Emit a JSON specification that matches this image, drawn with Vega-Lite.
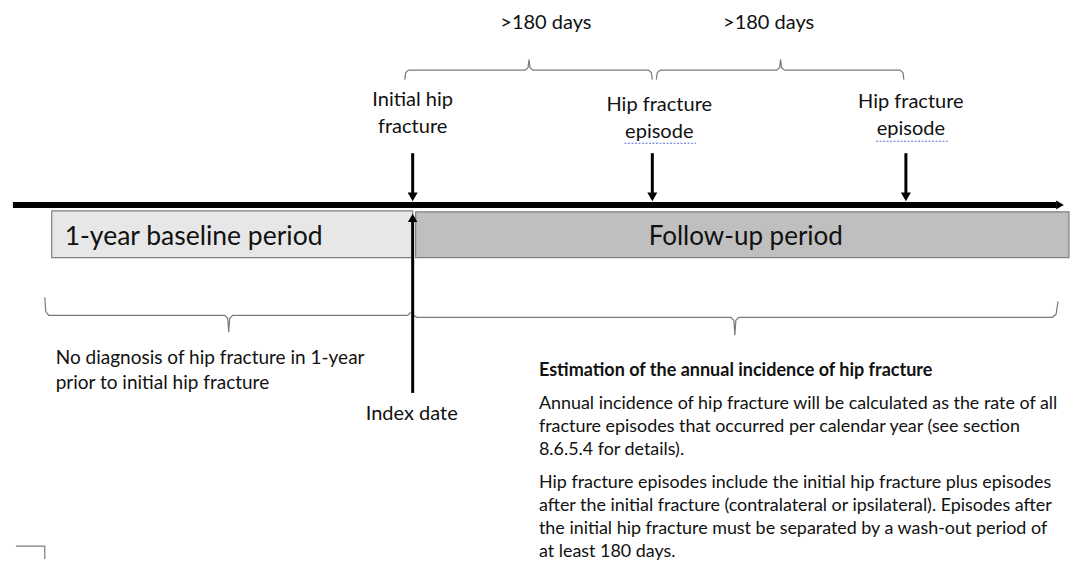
{
  "$schema": "https://vega.github.io/schema/vega-lite/v6.json",
  "width": 1070,
  "height": 562,
  "padding": 0,
  "autosize": {"type": "fit", "contains": "padding"},
  "background": "white",
  "config": {"view": {"stroke": null}, "text": {"font": "Lato"}},
  "encoding": {
    "x": {"field": "x", "type": "quantitative", "scale": {"domain": [0, 1070], "nice": false, "zero": false}, "axis": null},
    "y": {"field": "y", "type": "quantitative", "scale": {"domain": [0, 562], "nice": false, "zero": false, "reverse": true}, "axis": null}
  },
  "layer": [
    {
      "data": {"values": [
        {"name": "Baseline", "x": 52, "x2": 415, "y": 212, "y2": 259},
        {"name": "Follow-up", "x": 418, "x2": 1075, "y": 213, "y2": 259}
      ]},
      "mark": {"type": "rect", "stroke": "#7f7f7f", "strokeWidth": 1.2},
      "encoding": {
        "x2": {"field": "x2"},
        "y2": {"field": "y2"},
        "fill": {"field": "name", "type": "nominal", "scale": {"domain": ["Baseline", "Follow-up"], "range": ["#e7e7e7", "#bfbfbf"]}, "legend": null}
      }
    },
    {
      "data": {"values": [
        {"id": "b1", "o": 1, "x": 407, "y": 80}, {"id": "b1", "o": 2, "x": 408, "y": 73}, {"id": "b1", "o": 3, "x": 411, "y": 70.5}, {"id": "b1", "o": 4, "x": 528, "y": 70.5}, {"id": "b1", "o": 5, "x": 531, "y": 68}, {"id": "b1", "o": 6, "x": 532, "y": 60}, {"id": "b1", "o": 7, "x": 533, "y": 68}, {"id": "b1", "o": 8, "x": 536, "y": 70.5}, {"id": "b1", "o": 9, "x": 652, "y": 70.5}, {"id": "b1", "o": 10, "x": 655, "y": 73}, {"id": "b1", "o": 11, "x": 656, "y": 80},
        {"id": "b2", "o": 1, "x": 660, "y": 80}, {"id": "b2", "o": 2, "x": 661, "y": 73}, {"id": "b2", "o": 3, "x": 664, "y": 70.5}, {"id": "b2", "o": 4, "x": 781, "y": 70.5}, {"id": "b2", "o": 5, "x": 784, "y": 68}, {"id": "b2", "o": 6, "x": 785, "y": 60}, {"id": "b2", "o": 7, "x": 786, "y": 68}, {"id": "b2", "o": 8, "x": 789, "y": 70.5}, {"id": "b2", "o": 9, "x": 905, "y": 70.5}, {"id": "b2", "o": 10, "x": 908, "y": 73}, {"id": "b2", "o": 11, "x": 909, "y": 80},
        {"id": "b3", "o": 1, "x": 45, "y": 299}, {"id": "b3", "o": 2, "x": 46, "y": 313}, {"id": "b3", "o": 3, "x": 49, "y": 317}, {"id": "b3", "o": 4, "x": 226, "y": 317}, {"id": "b3", "o": 5, "x": 229, "y": 320}, {"id": "b3", "o": 6, "x": 230, "y": 334}, {"id": "b3", "o": 7, "x": 231, "y": 320}, {"id": "b3", "o": 8, "x": 234, "y": 317}, {"id": "b3", "o": 9, "x": 410, "y": 317}, {"id": "b3", "o": 10, "x": 413, "y": 314},
        {"id": "b4", "o": 1, "x": 415, "y": 312}, {"id": "b4", "o": 2, "x": 416, "y": 317}, {"id": "b4", "o": 3, "x": 419, "y": 319}, {"id": "b4", "o": 4, "x": 735, "y": 319}, {"id": "b4", "o": 5, "x": 738, "y": 322}, {"id": "b4", "o": 6, "x": 739, "y": 337}, {"id": "b4", "o": 7, "x": 740, "y": 322}, {"id": "b4", "o": 8, "x": 743, "y": 319}, {"id": "b4", "o": 9, "x": 1058, "y": 319}, {"id": "b4", "o": 10, "x": 1062, "y": 316}, {"id": "b4", "o": 11, "x": 1064, "y": 303},
        {"id": "c", "o": 1, "x": 16, "y": 549}, {"id": "c", "o": 2, "x": 45, "y": 549}, {"id": "c", "o": 3, "x": 45, "y": 562}
      ]},
      "mark": {"type": "line", "color": "#7a7a7a", "strokeWidth": 1.2, "interpolate": "linear"},
      "encoding": {
        "detail": {"field": "id", "type": "nominal"},
        "order": {"field": "o", "type": "quantitative"}
      }
    },
    {
      "data": {"values": [{"x": 13, "x2": 1062, "y": 206}]},
      "mark": {"type": "rule", "color": "black", "strokeWidth": 6},
      "encoding": {"x2": {"field": "x2"}}
    },
    {
      "data": {"values": [
        {"x": 415, "y": 154, "y2": 195},
        {"x": 656, "y": 154, "y2": 195},
        {"x": 911, "y": 154, "y2": 195},
        {"x": 415, "y": 222, "y2": 395}
      ]},
      "mark": {"type": "rule", "color": "black", "strokeWidth": 3},
      "encoding": {"y2": {"field": "y2"}}
    },
    {
      "data": {"values": [
        {"dir": "down", "x": 415, "y": 198},
        {"dir": "down", "x": 656, "y": 198},
        {"dir": "down", "x": 911, "y": 198},
        {"dir": "up", "x": 415, "y": 219},
        {"dir": "right", "x": 1066, "y": 206}
      ]},
      "mark": {"type": "point", "filled": true, "color": "black", "opacity": 1},
      "encoding": {
        "shape": {"field": "dir", "type": "nominal", "scale": {"domain": ["down", "up", "right"], "range": ["triangle-down", "triangle-up", "triangle-right"]}, "legend": null},
        "size": {"field": "dir", "type": "nominal", "scale": {"domain": ["down", "up", "right"], "range": [100, 80, 200]}, "legend": null}
      }
    },
    {
      "data": {"values": [
        {"x": 628, "x2": 700, "y": 144},
        {"x": 881, "x2": 953, "y": 142}
      ]},
      "mark": {"type": "rule", "color": "#5b6fd6", "strokeWidth": 1.2, "strokeDash": [2, 1.5]},
      "encoding": {"x2": {"field": "x2"}}
    },
    {
      "data": {"values": [{"label": "Follow-up period", "x": 750, "y": 238}]},
      "mark": {"type": "text", "fontSize": 26, "align": "center", "baseline": "middle", "color": "#111"},
      "encoding": {"text": {"field": "label"}}
    },
    {
      "data": {"values": [{"label": "1-year baseline period", "x": 65, "y": 238}]},
      "mark": {"type": "text", "fontSize": 26.5, "align": "left", "baseline": "middle", "color": "#111"},
      "encoding": {"text": {"field": "label"}}
    },
    {
      "data": {"values": [
        {"label": ">180 days", "x": 549, "y": 23},
        {"label": ">180 days", "x": 773, "y": 23},
        {"label": "Initial hip", "x": 415, "y": 101},
        {"label": "fracture", "x": 415, "y": 128},
        {"label": "Hip fracture", "x": 663, "y": 106},
        {"label": "episode", "x": 663, "y": 133},
        {"label": "Hip fracture", "x": 916, "y": 103},
        {"label": "episode", "x": 916, "y": 130},
        {"label": "Index date", "x": 414, "y": 416}
      ]},
      "mark": {"type": "text", "fontSize": 20, "align": "center", "baseline": "middle", "color": "#111"},
      "encoding": {"text": {"field": "label"}}
    },
    {
      "data": {"values": [
        {"label": "No diagnosis of hip fracture in 1-year", "x": 56, "y": 360},
        {"label": "prior to initial hip fracture", "x": 56, "y": 385}
      ]},
      "mark": {"type": "text", "fontSize": 19, "align": "left", "baseline": "middle", "color": "#111"},
      "encoding": {"text": {"field": "label"}}
    },
    {
      "data": {"values": [{"label": "Estimation of the annual incidence of hip fracture", "x": 542, "y": 373}]},
      "mark": {"type": "text", "fontSize": 18, "fontWeight": "bold", "align": "left", "baseline": "middle", "color": "#111"},
      "encoding": {"text": {"field": "label"}}
    },
    {
      "data": {"values": [
        {"label": "Annual incidence of hip fracture will be calculated as the rate of all", "x": 542, "y": 406},
        {"label": "fracture episodes that occurred per calendar year (see section", "x": 542, "y": 429},
        {"label": "8.6.5.4 for details).", "x": 542, "y": 452},
        {"label": "Hip fracture episodes include the initial hip fracture plus episodes", "x": 542, "y": 486},
        {"label": "after the initial fracture (contralateral or ipsilateral). Episodes after", "x": 542, "y": 509},
        {"label": "the initial hip fracture must be separated by a wash-out period of", "x": 542, "y": 532},
        {"label": "at least 180 days.", "x": 542, "y": 555}
      ]},
      "mark": {"type": "text", "fontSize": 17.9, "align": "left", "baseline": "middle", "color": "#111"},
      "encoding": {"text": {"field": "label"}}
    }
  ]
}
